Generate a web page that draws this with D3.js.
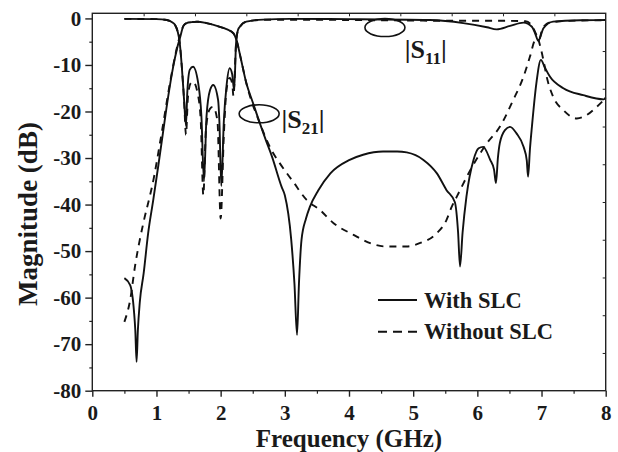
<!DOCTYPE html>
<html>
<head>
<meta charset="utf-8">
<script src="https://cdn.jsdelivr.net/npm/d3@7"></script>
<style>
  body { margin: 0; background: #fff; }
  text { font-family: "Liberation Serif", "Times New Roman", serif; font-weight: bold; fill: #1a1a1a; }
</style>
</head>
<body>
<script>
"use strict";

// [frequency GHz, magnitude dB]
const s21With = [
  [0.5,-55.8],[0.59,-57.3],[0.65,-63],[0.67,-67],[0.69,-73.8],[0.71,-67],[0.74,-61],[0.8,-54.8],
  [0.87,-46.2],[0.95,-39],[1.03,-31.5],[1.1,-24.7],[1.18,-17],[1.26,-10.4],[1.32,-6.5],[1.37,-4.0],
  [1.42,-1.6],[1.47,-1.0],[1.55,-0.8],[1.63,-0.7],[1.78,-1.0],[1.94,-1.6],[2.09,-2.3],[2.2,-3.2],
  [2.25,-4.8],[2.32,-9],[2.4,-13.9],[2.5,-18],[2.61,-22.5],[2.7,-26],[2.8,-29.7],[2.95,-36.2],
  [3.0,-38],[3.1,-47.6],[3.15,-57],[3.19,-68],[3.22,-57],[3.26,-47.6],[3.33,-43],[3.39,-40.5],
  [3.52,-37],[3.71,-33.3],[4.01,-30.4],[4.22,-29.3],[4.53,-28.6],[4.75,-28.6],[4.9,-28.8],
  [5.16,-30.4],[5.37,-33.3],[5.52,-36.9],[5.65,-39.5],[5.7,-46],[5.73,-53.3],[5.77,-46],
  [5.83,-38.3],[5.94,-30.4],[6.02,-27.9],[6.09,-27.6],[6.2,-30.4],[6.26,-32.5],[6.29,-35.4],
  [6.32,-30],[6.35,-26.8],[6.43,-24],[6.51,-23.3],[6.61,-24.7],[6.72,-27.6],[6.77,-30.5],
  [6.79,-34],[6.82,-28],[6.85,-23.3],[6.92,-13.9],[6.99,-8.9],[7.05,-10.5],[7.13,-12.5],
  [7.34,-15],[7.65,-16.5],[7.97,-17.4],[8.0,-17]
];

const s21Without = [
  [0.5,-65.2],[0.59,-60.5],[0.665,-53.3],[0.795,-44],[0.9,-38],[0.93,-36.2],[1.08,-24.7],
  [1.21,-13.9],[1.31,-6.8],[1.37,-3.5],[1.42,-1.6],[1.47,-1.0],[1.55,-0.8],[1.63,-0.7],
  [1.78,-1.0],[1.94,-1.6],[2.09,-2.3],[2.2,-3.2],[2.25,-4.8],[2.32,-9],[2.4,-13.9],
  [2.61,-22.5],[2.8,-28.5],[2.92,-31.1],[3.13,-35.1],[3.34,-39],[3.55,-41.2],[3.76,-44],
  [4.07,-46.5],[4.33,-48.3],[4.56,-49],[4.9,-49],[5.1,-48.3],[5.34,-46.5],[5.52,-43.3],
  [5.6,-40.5],[5.68,-38.3],[5.89,-32.6],[6.15,-26.8],[6.35,-23.3],[6.56,-17.5],[6.72,-12.5],
  [6.82,-8.2],[6.9,-4.6],[6.94,-4.3],[6.98,-6],[7.03,-9],[7.08,-12.5],[7.18,-16.8],
  [7.34,-19.7],[7.55,-21.5],[7.7,-20.8],[7.86,-19],[7.95,-17.8]
];

const s11With = [
  [0.5,-0.1],[1.0,-0.15],[1.16,-0.35],[1.25,-0.9],[1.29,-1.4],[1.33,-2.8],[1.36,-5],
  [1.395,-10.4],[1.43,-17.5],[1.46,-23],[1.48,-16],[1.52,-11],[1.57,-10.4],[1.65,-13.9],
  [1.7,-21],[1.74,-35],[1.78,-21],[1.835,-15.4],[1.885,-14.3],[1.96,-17.5],[1.98,-22],
  [2.01,-36],[2.05,-22],[2.09,-14.7],[2.14,-10.7],[2.18,-12],[2.21,-15.4],[2.24,-5.4],
  [2.27,-2.5],[2.3,-1.8],[2.4,-0.7],[2.66,-0.25],[3.08,-0.1],[4.0,-0.15],[5.26,-0.35],
  [5.78,-1.0],[6.15,-1.9],[6.3,-2.35],[6.51,-1.6],[6.72,-0.9],[6.85,-1.8],[6.9,-3.2],
  [6.95,-4.8],[7.03,-2.1],[7.18,-0.7],[7.6,-0.4],[8.0,-0.35]
];

const s11Without = [
  [0.5,-0.1],[1.0,-0.15],[1.16,-0.35],[1.25,-0.9],[1.29,-1.4],[1.33,-2.8],[1.36,-5],
  [1.395,-10.4],[1.43,-17.5],[1.46,-25],[1.49,-17],[1.53,-14],[1.57,-13.6],[1.64,-16],
  [1.69,-22],[1.73,-38],[1.77,-24],[1.83,-19.5],[1.88,-19],[1.95,-22],[2.0,-43],[2.05,-25],
  [2.09,-15.5],[2.14,-12.8],[2.18,-14],[2.2,-16.7],[2.24,-5.4],[2.27,-2.5],[2.3,-1.8],
  [2.4,-0.7],[2.66,-0.3],[3.5,-0.3],[4.5,-0.4],[5.5,-0.5],[6.3,-0.5],[6.75,-0.6],
  [6.85,-1.5],[6.92,-3.5],[6.96,-4.5],[7.02,-2],[7.15,-0.8],[7.6,-0.45],[8.0,-0.4]
];

const xTicks = [0, 1, 2, 3, 4, 5, 6, 7, 8];
const yTicks = [0, -10, -20, -30, -40, -50, -60, -70, -80];
const legendLabels = ["With SLC", "Without SLC"];

const W = 618, H = 452;
const margin = {left: 92.3, right: 12.3, top: 13.3, bottom: 61.3};
const width = W - margin.left - margin.right,
      height = H - margin.top - margin.bottom;

const svg = d3.select("body").append("svg")
    .attr("width", W).attr("height", H);

const g = svg.append("g")
    .attr("transform", `translate(${margin.left},${margin.top})`);

const x = d3.scaleLinear().domain([0, 8]).range([0, width]);
const y = d3.scaleLinear().domain([-80, 1.1]).range([height, 0]);

// curves
const line = d3.line()
    .x(d => x(d[0]))
    .y(d => y(d[1]))
    .curve(d3.curveMonotoneX);

const series = [
  {data: s21Without, dash: "7,6"},
  {data: s11Without, dash: "7,6"},
  {data: s21With, dash: null},
  {data: s11With, dash: null}
];

g.selectAll("path.curve")
  .data(series)
  .enter().append("path")
    .attr("class", "curve")
    .attr("d", d => line(d.data))
    .attr("fill", "none")
    .attr("stroke", "#111")
    .attr("stroke-width", 1.9)
    .attr("stroke-dasharray", d => d.dash);

// frame
g.append("rect")
    .attr("width", width).attr("height", height)
    .attr("fill", "none").attr("stroke", "#222").attr("stroke-width", 1.4);

// bottom axis
const xAxis = d3.axisBottom(x).tickValues(xTicks).tickSize(6).tickPadding(8)
    .tickFormat(d3.format("d"));
const gx = g.append("g").attr("transform", `translate(0,${height})`).call(xAxis);
gx.select(".domain").remove();
gx.selectAll("text").style("font-size", "21px");
gx.selectAll("line").attr("stroke", "#222").attr("stroke-width", 1.4);

const xMinor = d3.axisBottom(x).tickValues(d3.range(0.5, 8, 1)).tickSize(3).tickFormat("");
const gxm = g.append("g").attr("transform", `translate(0,${height})`).call(xMinor);
gxm.select(".domain").remove();
gxm.selectAll("line").attr("stroke", "#222").attr("stroke-width", 1.2);

// left axis
const yAxis = d3.axisLeft(y).tickValues(yTicks).tickSize(7).tickPadding(4)
    .tickFormat(d => String(d));
const gy = g.append("g").call(yAxis);
gy.select(".domain").remove();
gy.selectAll("text").style("font-size", "21px");
gy.selectAll("line").attr("stroke", "#222").attr("stroke-width", 1.4);

const yMinor = d3.axisLeft(y).tickValues(d3.range(-75, 0, 10)).tickSize(3).tickFormat("");
const gym = g.append("g").call(yMinor);
gym.select(".domain").remove();
gym.selectAll("line").attr("stroke", "#222").attr("stroke-width", 1.2);

// top and right: small inward ticks, ten divisions
const div = d3.scaleLinear().domain([0, 10]);
const gt = g.append("g").call(d3.axisBottom(div.copy().range([0, width]))
    .tickValues(d3.range(1, 10)).tickSize(3).tickFormat(""));
gt.select(".domain").remove();
gt.selectAll("line").attr("stroke", "#222");
const gr = g.append("g").attr("transform", `translate(${width},0)`)
    .call(d3.axisLeft(div.copy().range([0, height]))
    .tickValues(d3.range(1, 10)).tickSize(3).tickFormat(""));
gr.select(".domain").remove();
gr.selectAll("line").attr("stroke", "#222");

// axis titles
svg.append("text")
    .attr("x", margin.left + width / 2)
    .attr("y", 447)
    .attr("text-anchor", "middle")
    .style("font-size", "25px")
    .text("Frequency (GHz)");

svg.append("text")
    .attr("transform", "translate(37,214) rotate(-90)")
    .attr("text-anchor", "middle")
    .style("font-size", "27px")
    .text("Magnitude (dB)");

// S-parameter annotations
const notes = [
  {cx: 4.56, cy: -1.96, tx: 4.87, ty: -8.5, sub: "11"},
  {cx: 2.6, cy: -20.5, tx: 2.95, ty: -23.5, sub: "21"}
];
notes.forEach(n => {
  g.append("ellipse")
      .attr("cx", x(n.cx)).attr("cy", y(n.cy))
      .attr("rx", 20).attr("ry", 9)
      .attr("fill", "none").attr("stroke", "#111").attr("stroke-width", 1.6);
  const t = g.append("text")
      .attr("x", x(n.tx)).attr("y", y(n.ty))
      .style("font-size", "26px");
  t.append("tspan").text("|");
  t.append("tspan").text("S");
  t.append("tspan").attr("dy", 6).style("font-size", "17px").text(n.sub);
  t.append("tspan").attr("dy", -6).text("|");
});

// legend
const legend = svg.append("g").attr("transform", "translate(378,300)");
legendLabels.forEach((lab, i) => {
  legend.append("line")
      .attr("x1", 0).attr("x2", 39)
      .attr("y1", i * 31.7).attr("y2", i * 31.7)
      .attr("stroke", "#111").attr("stroke-width", 1.9)
      .attr("stroke-dasharray", i ? "9,6" : null);
  legend.append("text")
      .attr("x", 46).attr("y", i * 31.7 + 7.5)
      .style("font-size", "22.5px")
      .text(lab);
});
</script>
</body>
</html>
